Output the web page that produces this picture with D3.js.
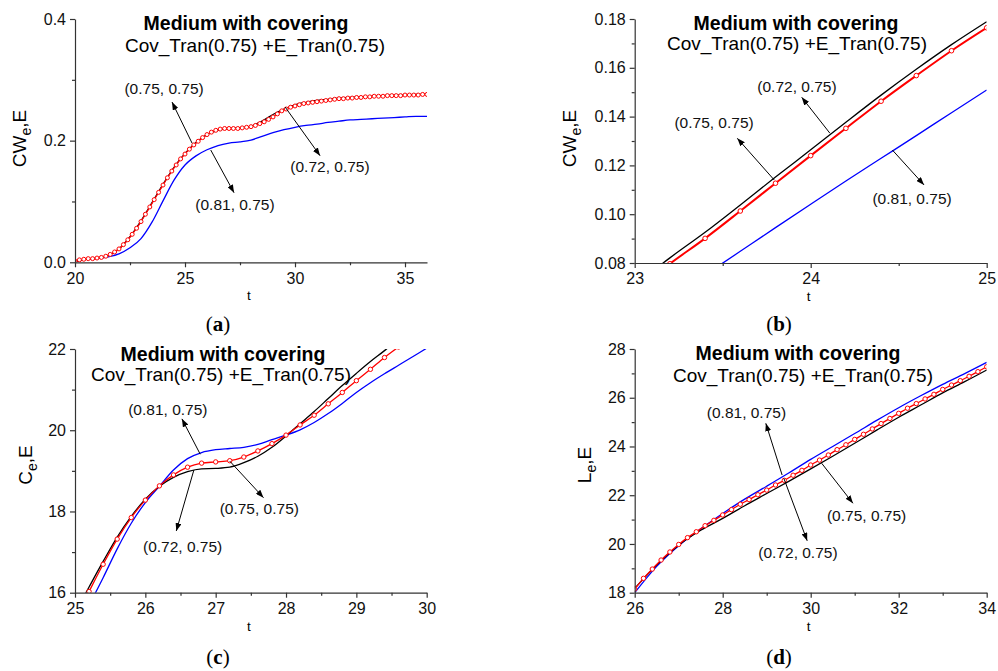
<!DOCTYPE html>
<html>
<head>
<meta charset="utf-8">
<script src="https://cdn.jsdelivr.net/npm/d3@7"></script>
<style>
  body { margin: 0; background: #fff; }
  svg text { font-family: "Liberation Sans", Arial, sans-serif; }
</style>
</head>
<body>
<div id="chart"></div>
<script>
const width = 998;
const height = 671;

// ---- panel (a): CWe,E vs t ----
const tA = d3.range(81).map(i => 20 + i * 0.2);      // red samples, step 0.2
const tA2 = d3.range(33).map(i => 20 + i * 0.5);     // black / blue samples
const redA = [0.002, 0.004, 0.005, 0.006, 0.006, 0.007, 0.008, 0.010, 0.013, 0.017,
  0.022, 0.029, 0.037, 0.046, 0.056, 0.067, 0.079, 0.091, 0.103, 0.115,
  0.127, 0.139, 0.150, 0.160, 0.170, 0.178, 0.186, 0.193, 0.199, 0.205,
  0.210, 0.214, 0.217, 0.219, 0.220, 0.220, 0.220, 0.220, 0.221, 0.222,
  0.223, 0.225, 0.228, 0.231, 0.235, 0.239, 0.244, 0.249, 0.252, 0.255,
  0.257, 0.259, 0.261, 0.262, 0.263, 0.264, 0.265, 0.266, 0.267, 0.268,
  0.269, 0.269, 0.270, 0.270, 0.271, 0.271, 0.272, 0.272, 0.273, 0.273,
  0.273, 0.274, 0.274, 0.274, 0.274, 0.275, 0.275, 0.275, 0.275, 0.276, 0.276];
const blackA = [0.001, 0.005, 0.007, 0.011, 0.022, 0.042, 0.068, 0.098, 0.128, 0.156,
  0.179, 0.197, 0.210, 0.217, 0.220, 0.221, 0.224, 0.232, 0.243, 0.252,
  0.259, 0.263, 0.266, 0.268, 0.270, 0.271, 0.272, 0.273, 0.274, 0.275,
  0.275, 0.276, 0.276];
const blueA = [0.002, 0.005, 0.006, 0.009, 0.014, 0.024, 0.039, 0.066, 0.101, 0.135,
  0.160, 0.175, 0.185, 0.192, 0.196, 0.198, 0.201, 0.207, 0.213, 0.218,
  0.222, 0.225, 0.227, 0.230, 0.232, 0.234, 0.235, 0.236, 0.237, 0.238,
  0.239, 0.240, 0.240];

// ---- panel (b): CWe,E zoomed ----
const tB = d3.range(11).map(i => 23 + i * 0.2);
const redB = [0.0685, 0.0797, 0.0901, 0.1013, 0.1127, 0.1240, 0.1352, 0.1463, 0.1568, 0.1670, 0.1764];
const blackB = [0.0709, 0.0821, 0.0926, 0.1038, 0.1152, 0.1264, 0.1377, 0.1488, 0.1594, 0.1695, 0.1789];
const blueB = [0.0557, 0.0654, 0.0751, 0.0848, 0.0945, 0.1041, 0.1136, 0.1229, 0.1322, 0.1416, 0.1509];

// ---- panel (c): Ce,E ----
const tC = d3.range(26).map(i => 25 + i * 0.2);
const redC = [15.35, 16.03, 16.70, 17.32, 17.85, 18.28, 18.63, 18.90, 19.09, 19.19,
  19.22, 19.25, 19.34, 19.49, 19.67, 19.88, 20.13, 20.37, 20.65, 20.93,
  21.22, 21.50, 21.79, 22.05, 22.32, 22.60];
const blackC = [15.50, 16.14, 16.77, 17.37, 17.88, 18.30, 18.62, 18.84, 18.98, 19.05,
  19.06, 19.09, 19.20, 19.36, 19.58, 19.86, 20.16, 20.46, 20.78, 21.10,
  21.40, 21.69, 21.96, 22.25, 22.55, 22.85];
const blueC = [15.00, 15.69, 16.37, 17.08, 17.71, 18.22, 18.62, 19.02, 19.30, 19.45,
  19.52, 19.55, 19.58, 19.65, 19.77, 19.88, 20.01, 20.19, 20.41, 20.66,
  20.93, 21.17, 21.39, 21.60, 21.81, 22.02];

// ---- panel (d): Le,E ----
const tD = d3.range(41).map(i => 26 + i * 0.2);
const tD2 = d3.range(17).map(i => 26 + i * 0.5);
const redD = [18.15, 18.59, 18.97, 19.34, 19.67, 19.98, 20.26, 20.50, 20.75, 20.97,
  21.19, 21.41, 21.63, 21.82, 22.02, 22.21, 22.42, 22.61, 22.82, 23.02,
  23.24, 23.44, 23.65, 23.87, 24.07, 24.29, 24.50, 24.72, 24.94, 25.15,
  25.36, 25.57, 25.76, 25.95, 26.14, 26.34, 26.52, 26.70, 26.88, 27.07, 27.27];
const blackD = [18.18, 19.14, 19.95, 20.56, 21.05, 21.57, 22.07, 22.57, 23.08, 23.60,
  24.13, 24.67, 25.20, 25.70, 26.20, 26.66, 27.14];
const blueD = [18.00, 19.08, 19.93, 20.62, 21.25, 21.84, 22.37, 22.91, 23.47, 24.00,
  24.53, 25.07, 25.59, 26.08, 26.55, 26.99, 27.45];

// annotations: label position and arrow (from -> to), in data units
const notesA = [
  { label: "(0.75, 0.75)", at: [24.05, 0.277], from: [25.32, 0.196], to: [24.41, 0.2635] },
  { label: "(0.81, 0.75)", at: [27.27, 0.086], from: [26.17, 0.1846], to: [27.23, 0.1144] },
  { label: "(0.72, 0.75)", at: [31.59, 0.1484], from: [29.55, 0.2553], to: [31.14, 0.1752] }
];
const notesB = [
  { label: "(0.72, 0.75)", at: [23.922, 0.1501], from: [24.109, 0.1332], to: [23.949, 0.1479] },
  { label: "(0.75, 0.75)", at: [23.451, 0.1353], from: [23.793, 0.1140], to: [23.583, 0.1311] },
  { label: "(0.81, 0.75)", at: [24.576, 0.1042], from: [24.464, 0.1263], to: [24.644, 0.1120] }
];
const notesC = [
  { label: "(0.81, 0.75)", at: [26.32, 20.38], from: [26.78, 19.41], to: [26.52, 20.28] },
  { label: "(0.75, 0.75)", at: [27.62, 17.94], from: [27.20, 19.24], to: [27.68, 18.34] },
  { label: "(0.72, 0.75)", at: [26.53, 17.00], from: [26.69, 19.02], to: [26.44, 17.52] }
];
const notesD = [
  { label: "(0.81, 0.75)", at: [28.54, 25.16], from: [29.35, 22.83], to: [28.98, 24.95] },
  { label: "(0.75, 0.75)", at: [31.27, 20.95], from: [30.25, 23.31], to: [30.96, 21.67] },
  { label: "(0.72, 0.75)", at: [29.71, 19.44], from: [29.39, 22.69], to: [29.92, 20.13] }
];

const title = "Medium with covering";
const subtitle = "Cov_Tran(0.75) +E_Tran(0.75)";

const panels = [
  {
    tag: "a", xDomain: [20, 36], yDomain: [0, 0.4],
    box: { l: 75, r: 427, t: 19, b: 262.3 },
    xMajor: [20, 25, 30, 35], xMinor: [22.5, 27.5, 32.5],
    yMajor: [0, 0.2, 0.4], yMinor: [0.1, 0.3], yFmt: d3.format(".1f"),
    yLabel: ["CW", "e", ",E"], yLabelPos: [26, 138.5],
    titlePos: [246, 30], subPos: [255, 52], tagPos: [218, 331],
    series: [
      { t: tA2, v: blueA, color: "#0000ff" },
      { t: tA2, v: blackA, color: "#000" },
      { t: tA, v: redA, color: "#ff0000", marker: true }
    ],
    notes: notesA, r: 2
  },
  {
    tag: "b", xDomain: [23, 25], yDomain: [0.08, 0.18],
    box: { l: 634.7, r: 986.7, t: 19, b: 263 },
    xMajor: [23, 24, 25], xMinor: [23.5, 24.5],
    yMajor: [0.08, 0.10, 0.12, 0.14, 0.16, 0.18], yMinor: [0.09, 0.11, 0.13, 0.15, 0.17], yFmt: d3.format(".2f"),
    yLabel: ["CW", "e", ",E"], yLabelPos: [576, 138.5],
    titlePos: [796, 30], subPos: [797, 50], tagPos: [779, 331],
    series: [
      { t: tB, v: blueB, color: "#0000ff" },
      { t: tB, v: blackB, color: "#000" },
      { t: tB, v: redB, color: "#ff0000", marker: true, width: 2 }
    ],
    notes: notesB, r: 2.3
  },
  {
    tag: "c", xDomain: [25, 30], yDomain: [16, 22],
    box: { l: 75, r: 426.7, t: 349, b: 592.7 },
    xMajor: [25, 26, 27, 28, 29, 30], xMinor: [25.5, 26.5, 27.5, 28.5, 29.5],
    yMajor: [16, 18, 20, 22], yMinor: [17, 19, 21], yFmt: d3.format("d"),
    yLabel: ["C", "e", ",E"], yLabelPos: [32, 465],
    titlePos: [223, 361], subPos: [221, 381], tagPos: [218, 664],
    series: [
      { t: tC, v: blueC, color: "#0000ff" },
      { t: tC, v: blackC, color: "#000" },
      { t: tC, v: redC, color: "#ff0000", marker: true }
    ],
    notes: notesC, r: 2.2
  },
  {
    tag: "d", xDomain: [26, 34], yDomain: [18, 28],
    box: { l: 634.7, r: 986.7, t: 349, b: 592.7 },
    xMajor: [26, 28, 30, 32, 34], xMinor: [27, 29, 31, 33],
    yMajor: [18, 20, 22, 24, 26, 28], yMinor: [19, 21, 23, 25, 27], yFmt: d3.format("d"),
    yLabel: ["L", "e", ",E"], yLabelPos: [591, 465],
    titlePos: [798, 360], subPos: [803, 382], tagPos: [779, 664],
    series: [
      { t: tD2, v: blueD, color: "#0000ff" },
      { t: tD2, v: blackD, color: "#000" },
      { t: tD, v: redD, color: "#ff0000", marker: true }
    ],
    notes: notesD, r: 2.2
  }
];

const svg = d3.select("#chart")
  .append("svg")
  .attr("width", width)
  .attr("height", height);

svg.append("defs").append("marker")
  .attr("id", "arrow")
  .attr("markerUnits", "userSpaceOnUse")
  .attr("viewBox", "0 0 8 6")
  .attr("refX", 8)
  .attr("refY", 3)
  .attr("markerWidth", 8)
  .attr("markerHeight", 6)
  .attr("orient", "auto")
  .append("path")
  .attr("d", "M0,0L8,3L0,6Z")
  .attr("fill", "#000");

panels.forEach(p => {
  const g = svg.append("g");
  const x = d3.scaleLinear().domain(p.xDomain).range([p.box.l, p.box.r]);
  const y = d3.scaleLinear().domain(p.yDomain).range([p.box.b, p.box.t]);

  // clip to plot area
  const clipId = "clip-" + p.tag;
  svg.select("defs").append("clipPath").attr("id", clipId)
    .append("rect")
    .attr("x", p.box.l).attr("y", p.box.t)
    .attr("width", p.box.r - p.box.l).attr("height", p.box.b - p.box.t);

  const plot = g.append("g").attr("clip-path", `url(#${clipId})`);

  p.series.forEach(s => {
    const pts = s.t.map((t, i) => [t, s.v[i]]);
    const line = d3.line()
      .x(d => x(d[0]))
      .y(d => y(d[1]))
      .curve(d3.curveMonotoneX);
    plot.append("path")
      .attr("d", line(pts))
      .attr("fill", "none")
      .attr("stroke", s.color)
      .attr("stroke-width", s.width || 1.3);
    if (s.marker) {
      plot.selectAll(null)
        .data(pts)
        .join("circle")
        .attr("cx", d => x(d[0]))
        .attr("cy", d => y(d[1]))
        .attr("r", p.r)
        .attr("fill", "#fff")
        .attr("stroke", s.color)
        .attr("stroke-width", 1);
    }
  });

  // axes: major ticks with labels, minor ticks without
  const xAxis = g.append("g")
    .attr("transform", `translate(0,${p.box.b})`)
    .call(d3.axisBottom(x).tickValues(p.xMajor).tickFormat(d3.format("d"))
      .tickSize(5).tickSizeOuter(0).tickPadding(5));
  g.append("g")
    .attr("transform", `translate(0,${p.box.b})`)
    .call(d3.axisBottom(x).tickValues(p.xMinor).tickFormat("").tickSize(3).tickSizeOuter(0))
    .call(a => a.select(".domain").remove());

  const yAxis = g.append("g")
    .attr("transform", `translate(${p.box.l},0)`)
    .call(d3.axisLeft(y).tickValues(p.yMajor).tickFormat(p.yFmt)
      .tickSize(5).tickSizeOuter(0).tickPadding(4));
  g.append("g")
    .attr("transform", `translate(${p.box.l},0)`)
    .call(d3.axisLeft(y).tickValues(p.yMinor).tickFormat("").tickSize(3).tickSizeOuter(0))
    .call(a => a.select(".domain").remove());

  g.selectAll(".domain, .tick line").attr("stroke", "#333").attr("stroke-width", 1.2);
  [xAxis, yAxis].forEach(a => a.selectAll("text")
    .attr("font-size", 16)
    .attr("fill", "#111")
    .attr("font-family", "'Liberation Sans', Arial, sans-serif"));

  // axis titles
  g.append("text")
    .attr("x", (p.box.l + p.box.r) / 2 - 2)
    .attr("y", p.box.b + 38)
    .attr("text-anchor", "middle")
    .attr("font-size", 13.5)
    .text("t");

  const yl = g.append("text")
    .attr("transform", `translate(${p.yLabelPos[0]},${p.yLabelPos[1]}) rotate(-90)`)
    .attr("text-anchor", "middle")
    .attr("font-size", 19);
  yl.append("tspan").text(p.yLabel[0]);
  yl.append("tspan").attr("font-size", 14).attr("dy", 5).text(p.yLabel[1]);
  yl.append("tspan").attr("dy", -5).text(p.yLabel[2]);

  // titles
  g.append("text")
    .attr("x", p.titlePos[0]).attr("y", p.titlePos[1])
    .attr("text-anchor", "middle")
    .attr("font-size", 19.5)
    .attr("font-weight", "bold")
    .text(title);
  g.append("text")
    .attr("x", p.subPos[0]).attr("y", p.subPos[1])
    .attr("text-anchor", "middle")
    .attr("font-size", 19)
    .text(subtitle);

  // annotations
  p.notes.forEach(n => {
    g.append("line")
      .attr("x1", x(n.from[0])).attr("y1", y(n.from[1]))
      .attr("x2", x(n.to[0])).attr("y2", y(n.to[1]))
      .attr("stroke", "#000")
      .attr("stroke-width", 1)
      .attr("marker-end", "url(#arrow)");
    g.append("text")
      .attr("x", x(n.at[0])).attr("y", y(n.at[1]))
      .attr("text-anchor", "middle")
      .attr("font-size", 15.5)
      .attr("fill", "#111")
      .text(n.label);
  });

  // panel tag, e.g. (a)
  const tag = g.append("text")
    .attr("x", p.tagPos[0]).attr("y", p.tagPos[1])
    .attr("text-anchor", "middle")
    .attr("font-size", 21)
    .style("font-family", "'Liberation Serif', 'DejaVu Serif', serif");
  tag.append("tspan").text("(");
  tag.append("tspan").attr("font-weight", "bold").text(p.tag);
  tag.append("tspan").text(")");
});
</script>
</body>
</html>
